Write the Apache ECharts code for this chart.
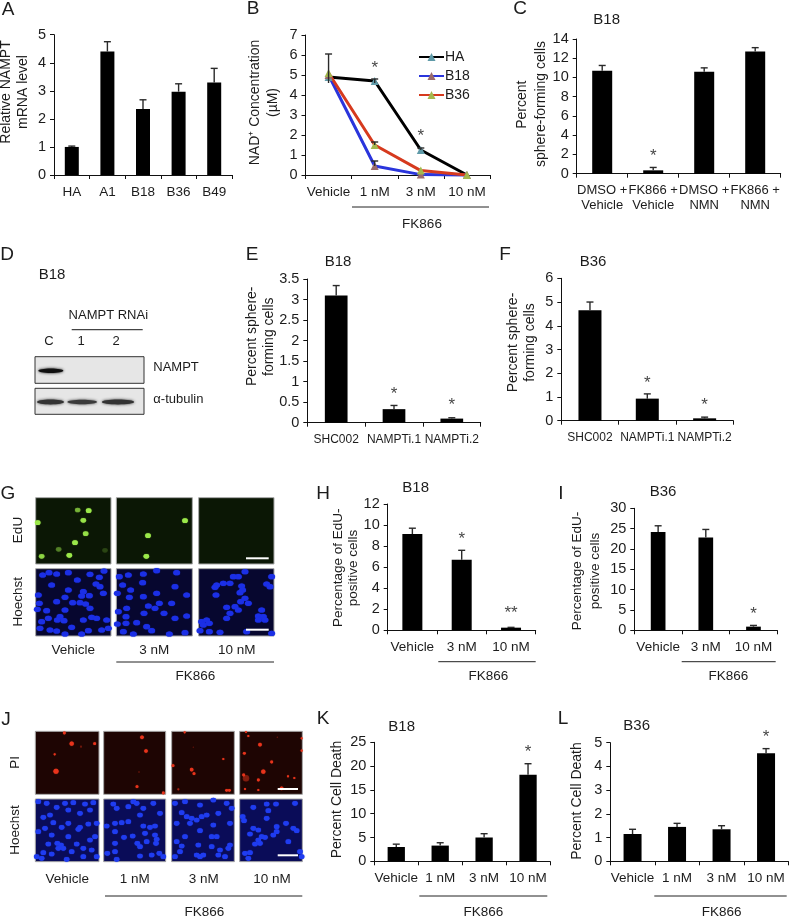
<!DOCTYPE html>
<html><head><meta charset="utf-8">
<style>html,body{margin:0;padding:0;background:#fff}#c{width:790px;height:918px}</style>
<script src="https://cdn.jsdelivr.net/npm/echarts@6/dist/echarts.min.js"></script>
</head><body><div id="c"></div>
<script>
// ---------- values ----------
const catsA = ['HA','A1','B18','B36','B49'];
const valsA = [1,4.4,2.35,2.97,3.3];
const topsA = [1.03,4.75,2.68,3.25,3.8];

const catsB = ['Vehicle','1 nM','3 nM','10 nM'];
const lineHA = [4.9,4.7,1.25,0];
const lineB18 = [5.0,0.45,0.02,0];
const lineB36 = [5.1,1.5,0.22,0];
const errB = [[0,4.6,6.05],[1,0.45,0.7],[1,1.5,1.65],[1,4.6,4.8],[2,1.25,1.35]];

const catsC = ['DMSO +\nVehicle','FK866 +\nVehicle','DMSO +\nNMN','FK866 +\nNMN'];
const valsC = [10.7,0.35,10.6,12.7];
const topsC = [11.25,0.65,11,13.1];

const catsEF = ['SHC002','NAMPTi.1','NAMPTi.2'];
const valsE = [3.1,0.33,0.1];
const topsE = [3.34,0.42,0.12];
const valsF = [4.65,0.93,0.1];
const topsF = [5.0,1.13,0.15];

const catsHI = ['Vehicle','3 nM','10 nM'];
const valsH = [9.15,6.7,0.25];
const topsH = [9.7,7.6,0.28];
const valsI = [24.2,22.8,0.9];
const topsI = [25.7,24.8,1.2];

const catsKL = ['Vehicle','1 nM','3 nM','10 nM'];
const valsK = [3,3.3,5,18.2];
const topsK = [3.6,3.9,5.8,20.5];
const valsL = [1.15,1.45,1.35,4.55];
const topsL = [1.35,1.6,1.5,4.75];

// micrograph spots: [x, y, brightness, size]
const eduG1 = [[233,90,0.5],[266,92],[113,128],[250,121,0.85],[257,161,0.8],[225,188],[125,229,0.7],[208,226],[176,208,0.3],[315,211,0.12]];
const eduG2 = [[555,122],[444,167],[439,229]];
const eduG3 = [];
const hoeG1 = [[128,285],[147,278],[170,282],[205,278],[232,300],[270,283],[312,273],[298,292],[288,312],[300,320],[155,315],[205,330],[250,335],[245,348],[268,347],[195,352],[310,340],[115,345],[118,370],[170,365],[218,368],[240,368],[257,372],[270,385],[195,390],[140,392],[112,388],[145,415],[180,410],[172,420],[192,422],[275,412],[290,415],[250,420],[320,420],[125,425],[120,445],[150,450],[170,453],[215,442],[265,452],[305,450],[325,445],[195,462],[245,462]];
const hoeG2 = [[368,315],[385,285],[430,282],[470,272],[530,278],[358,290],[392,330],[428,308],[525,320],[470,340],[388,352],[352,340],[430,350],[560,345],[515,370],[478,370],[445,378],[465,385],[380,385],[355,395],[492,400],[432,400],[560,408],[378,410],[525,415],[378,430],[410,428],[440,440],[352,432],[370,455],[455,452],[508,462],[555,458],[400,462]];
const hoeG3 = [[735,275],[715,290],[700,290],[690,310],[670,310],[650,315],[645,322],[725,318],[728,330],[720,338],[648,345],[800,312],[815,290],[810,320],[735,355],[722,365],[745,370],[705,380],[680,382],[715,390],[690,400],[680,415],[785,390],[775,408],[790,410],[795,420],[775,420],[605,425],[620,420],[610,435],[628,430],[600,452],[628,455],[660,457],[815,460],[740,455]];
const piJ1 = [[193,99,1,4],[215,131,1,6],[284,131,1,4],[164,163,1,3],[168,214,1,7],[243,140,0.25,3]];
const piJ2 = [[426,112,1,5],[438,153,1,5],[411,260,1,4],[490,279,1,4],[417,216,0.3,2]];
const piJ3 = [[554,97,1,3],[519,197,1,4],[575,209,1,5],[582,221,1,4],[670,177,1,3],[688,271,1,4],[680,271,1,4],[535,268,0.5,3],[580,142,0.2,2]];
const piJ4 = [[738,96,1,3],[745,108,1,3],[780,134,1,5],[733,160,1,4],[815,186,1,4],[790,215,1,6],[731,225,1,4],[775,240,1,4],[864,229,1,3],[883,234,1,3],[845,265,1,5],[735,267,1,3],[775,270,1,3],[905,115,1,3],[905,152,1,3],[738,235,0.3,9],[832,112,0.25,2]];
const hoeJ1 = [[115,305],[140,310],[170,322],[195,310],[220,308],[255,312],[280,308],[150,345],[130,352],[205,330],[240,340],[270,330],[115,395],[160,368],[185,382],[135,385],[205,370],[240,382],[235,388],[265,372],[290,370],[155,405],[205,410],[145,432],[172,430],[183,435],[190,445],[175,445],[230,432],[250,445],[285,410],[270,420],[275,450],[130,458],[155,462],[215,455],[250,470],[125,475],[200,478],[290,470],[110,470]];
const hoeJ2 = [[340,312],[350,325],[385,320],[400,305],[410,310],[430,325],[460,310],[345,370],[365,368],[385,365],[420,345],[430,378],[450,382],[465,378],[320,378],[345,395],[398,408],[372,412],[412,430],[420,440],[465,405],[470,418],[468,430],[440,425],[345,430],[322,460],[345,455],[350,478],[420,468],[455,465],[478,460],[490,470],[480,340],[435,400]];
const hoeJ3 = [[525,310],[555,305],[600,315],[640,300],[680,310],[695,325],[545,338],[560,350],[575,355],[590,360],[605,350],[620,345],[655,340],[530,370],[570,370],[690,370],[600,392],[640,375],[555,410],[635,410],[650,410],[530,425],[545,438],[595,435],[635,440],[660,450],[690,435],[685,445],[540,455],[590,465],[600,470],[610,465],[655,465],[675,470],[525,470]];
const hoeJ4 = [[760,322],[800,312],[828,312],[885,310],[805,332],[728,350],[732,362],[760,385],[775,390],[830,380],[858,370],[880,385],[890,392],[750,402],[785,410],[795,412],[775,420],[765,432],[780,430],[865,425],[735,460],[750,458],[900,455],[830,395],[820,405],[905,470],[745,475],[800,355]];

// ---------- layout and style ----------
const FONT = '"Liberation Sans", Arial, sans-serif';
const INK = '#1c1c1c';
const panels = [
 {cats:catsA,vals:valsA,tops:topsA,box:[54,34.7,178,140.3],max:5,step:1,bw:14,lab:13.5,margin:10},
 {cats:catsB,line:true,box:[305.5,35,184.5,140],max:7,step:1,lab:13.5,margin:10,stars:[[1,5.46],[2,2.1]]},
 {cats:catsC,vals:valsC,tops:topsC,box:[576.7,39,204,134.7],max:14,step:2,bw:20,lab:13,margin:9,stars:[[1,2.15]]},
 {cats:catsEF,vals:valsE,tops:topsE,box:[307.3,279,173.4,143.7],max:3.5,step:0.5,bw:22.7,lab:12,margin:9,stars:[[1,0.755],[2,0.487]]},
 {cats:catsEF,vals:valsF,tops:topsF,box:[561.3,278.3,172,142.4],max:6,step:1,bw:23,lab:12,margin:9,stars:[[1,1.72],[2,0.76]]},
 {cats:catsHI,vals:valsH,tops:topsH,box:[387.7,504,148,126.3],max:12,step:2,bw:20,lab:13.5,margin:9,stars:[[1,8.96],[2,1.86,'**']]},
 {cats:catsHI,vals:valsI,tops:topsI,box:[634.3,508.3,143,122],max:30,step:5,bw:14.7,lab:13.5,margin:9,stars:[[2,4.75]]},
 {cats:catsKL,vals:valsK,tops:topsK,box:[374.3,742.3,175.7,119],max:25,step:5,bw:17.3,lab:13.5,margin:9,stars:[[3,23.5]]},
 {cats:catsKL,vals:valsL,tops:topsL,box:[610.3,742.7,178,118.6],max:5,step:1,bw:18,lab:13.5,margin:9,stars:[[3,5.35]]}
];
// [spots, x0, x1, y0, y1, background, colour, size, origin x, origin y]
const images = [
 [eduG1,107,333,53,252,'#0b1705','#9be84a',[5.6,4.6],0,480],
 [eduG2,349,577,53,252,'#0b1705','#9be84a',[5.6,4.6],0,480],
 [eduG3,596,822,53,252,'#0b1705','#9be84a',[5.6,4.6],0,480],
 [hoeG1,107,333,266,468,'#07072f','#1b2fe6',[6.8,5.2],0,480],
 [hoeG2,349,577,266,468,'#07072f','#1b2fe6',[6.8,5.2],0,480],
 [hoeG3,596,822,266,468,'#07072f','#1b2fe6',[6.8,5.2],0,480],
 [piJ1,106,297,94,283,'#1e0503','#e8341c',0.72,0,700],
 [piJ2,311,497,94,283,'#1e0503','#e8341c',0.72,0,700],
 [piJ3,515,703,94,283,'#1e0503','#e8341c',0.72,0,700],
 [piJ4,719,907,94,283,'#1e0503','#e8341c',0.72,0,700],
 [hoeJ1,106,297,297,485,'#0a0c58','#1f3cf0',[5.5,4.6],0,700],
 [hoeJ2,311,497,297,485,'#0a0c58','#1f3cf0',[5.5,4.6],0,700],
 [hoeJ3,515,703,297,485,'#0a0c58','#1f3cf0',[5.5,4.6],0,700],
 [hoeJ4,719,907,297,485,'#0a0c58','#1f3cf0',[5.5,4.6],0,700]
];

const grid=[],xAxis=[],yAxis=[],series=[];
function errorSeries(data,i){
  return {type:'custom',xAxisIndex:i,yAxisIndex:i,data,clip:false,silent:true,z:4,encode:{x:0,y:[1,2]},
    renderItem(p,api){
      const a=api.coord([api.value(0),api.value(1)]), b=api.coord([api.value(0),api.value(2)]);
      const st={stroke:'#2a2a2a',lineWidth:1.4};
      return {type:'group',children:[
        {type:'line',shape:{x1:a[0],y1:a[1],x2:b[0],y2:b[1]},style:st},
        {type:'line',shape:{x1:b[0]-3.5,y1:b[1],x2:b[0]+3.5,y2:b[1]},style:st}]};
    }};
}
panels.forEach((p,i)=>{
  grid.push({left:p.box[0],top:p.box[1],width:p.box[2],height:p.box[3]});
  xAxis.push({type:'category',gridIndex:i,data:p.cats,boundaryGap:true,
    axisLine:{lineStyle:{color:'#111',width:1}},axisTick:{show:true,length:4,lineStyle:{color:'#111'},alignWithLabel:false},
    axisLabel:{interval:0,hideOverlap:false,fontFamily:FONT,fontSize:p.lab,color:INK,margin:p.margin,lineHeight:15}});
  yAxis.push({type:'value',gridIndex:i,min:0,max:p.max,interval:p.step,splitLine:{show:false},
    axisLine:{show:true,lineStyle:{color:'#111',width:1}},axisTick:{show:true,length:4,lineStyle:{color:'#111'}},
    axisLabel:{fontFamily:FONT,fontSize:14.5,color:INK,margin:8}});
  if(p.line){
    [['HA',lineHA,'#000','#5f9aa8'],['B18',lineB18,'#2a35dc','#9a6b6b'],['B36',lineB36,'#d63a1e','#a4b84e']].forEach(s=>{
      series.push({type:'line',name:s[0],xAxisIndex:i,yAxisIndex:i,data:s[1],symbol:'triangle',symbolSize:8,showSymbol:true,clip:false,z:3,
        lineStyle:{color:s[2],width:3},itemStyle:{color:s[3]}});
    });
    series.push(errorSeries(errB,i));
  } else {
    series.push({type:'bar',xAxisIndex:i,yAxisIndex:i,data:p.vals,barWidth:p.bw,itemStyle:{color:'#000'},silent:true,z:2});
    series.push(errorSeries(p.tops.map((t,k)=>[k,p.vals[k],t]),i));
  }
  if(p.stars){
    series.push({type:'scatter',xAxisIndex:i,yAxisIndex:i,clip:false,symbolSize:1,itemStyle:{color:'rgba(0,0,0,0)'},silent:true,z:5,
      data:p.stars.map(s=>({value:[s[0],s[1]],label:{formatter:s[2]||'*'}})),
      label:{show:true,position:'inside',fontFamily:FONT,fontSize:17,color:'#111',offset:[0,3]}});
  }
});
images.forEach(im=>{
  const i=grid.length, [spots,x0,x1,y0,y1,bg,col,size,ox,oy]=im;
  grid.push({show:true,left:ox+x0/3,top:oy+y0/3,width:(x1-x0)/3,height:(y1-y0)/3,backgroundColor:bg,borderColor:'#a8a8a8',borderWidth:1});
  xAxis.push({type:'value',gridIndex:i,min:x0,max:x1,show:false});
  yAxis.push({type:'value',gridIndex:i,min:y0,max:y1,inverse:true,show:false});
  series.push({type:'scatter',xAxisIndex:i,yAxisIndex:i,silent:true,z:2,clip:true,
    data:spots.map(d=>({value:[d[0],d[1]],symbolSize:d[3]?d[3]*size:size,itemStyle:{opacity:d[2]===undefined?1:d[2]}})),
    itemStyle:{color:col,shadowColor:col,shadowBlur:1}});
});

// ---------- text and rules ----------
const g=[];
function txt(s,x,y,size,opt){g.push(Object.assign({type:'text',x,y,z:50,style:{text:s,fontFamily:FONT,fontSize:size||13.5,fill:INK,textAlign:'center',textVerticalAlign:'middle'}},opt||{}));}
function vtxt(s,x,y,size){txt(s,x,y,size,{rotation:Math.PI/2});}
function rule(x1,x2,y,w,col){g.push({type:'line',z:50,shape:{x1,y1:y,x2,y2:y},style:{stroke:col||'#222',lineWidth:w||1}});}
[['A',8,10],['B',253,9],['C',520,9],['D',7,255],['E',252,255],['F',505,255],['G',8,494],['H',323,494],['I',561,494],['J',6,720],['K',323,719],['L',563,719]].forEach(l=>txt(l[0],l[1],l[2],19));
[[606.7,20],[52,275],[338,261.7],[593,262],[415.7,488],[663,492],[401.7,726.7],[636.7,726]].forEach((p,k)=>txt(['B18','B18','B18','B36','B18','B36','B18','B36'][k],p[0],p[1],15));
[['Relative NAMPT',6.5,92,14],['mRNA level',23,92,14],['NAD\u207A Concentration',255,102.5,14],['(\u00B5M)',273,102.5,14],
 ['Percent',522,104.7,14],['sphere-forming cells',540.7,104,14],
 ['Percent sphere-',251.7,336.3,14],['forming cells',269.3,336.7,14],['Percent sphere-',512.7,342.5,14],['forming cells',530,342.5,14],
 ['Percentage of EdU-',338.3,567.8,13.5],['positive cells',353.3,568,13.5],['Percentage of EdU-',577.3,571,13.5],['positive cells',595,571,13.5],
 ['Percent Cell Death',336.7,799.5,14],['Percent Cell Death',577.3,801,14],
 ['EdU',18.3,530,13.5],['Hoechst',18.3,601.7,13.5],['PI',15.7,762.3,13.5],['Hoechst',15.7,830,13.5]].forEach(t=>vtxt(t[0],t[1],t[2],t[3]));
[[352,489,207,422,224],[438.3,535.7,661.7,488.3,676.7],[681.7,775.7,661.7,728.3,676.7],[419.3,547.3,896,483.3,912],[654.3,786.7,896,721.7,912],[116.3,274,662,195.3,676.7],[105,302.3,896,204.3,912]].forEach(f=>{
  rule(f[0],f[1],f[2]);txt('FK866',f[3],f[4],13.5);
});
[['Vehicle',73.3,650],['3 nM',154.3,650],['10 nM',236.7,650],['Vehicle',67.3,879],['1 nM',134.7,879],['3 nM',203.7,879],['10 nM',272,879]].forEach(t=>txt(t[0],t[1],t[2],13.5));
// scale bars
[[246,268.7,558.3],[246,268.7,629.7],[277.7,298,789],[277.7,298,855.3]].forEach(s=>rule(s[0],s[1],s[2],2,'#fff'));
// western blot
txt('NAMPT RNAi',108.3,315,13);rule(71.7,142.7,329.7,1.2,'#444');
[['C',49],['1',81],['2',116]].forEach(t=>txt(t[0],t[1],341.7,13));
txt('NAMPT',153.3,367.3,13,{style:{text:'NAMPT',fontFamily:FONT,fontSize:13,fill:INK,textAlign:'left',textVerticalAlign:'middle'}});
txt('\u03B1-tubulin',153.3,399.3,13,{style:{text:'\u03B1-tubulin',fontFamily:FONT,fontSize:13,fill:INK,textAlign:'left',textVerticalAlign:'middle'}});
[[35,356.7,109,26.6],[35,388.3,109,26]].forEach(r=>g.push({type:'rect',z:40,shape:{x:r[0],y:r[1],width:r[2],height:r[3]},style:{fill:'#e6e6e6',stroke:'#333',lineWidth:1}}));
[[50.8,370.7,12.5,2.2,'#111'],[50.5,402,13.5,2.4,'#333'],[82.2,402,14.8,2.2,'#3a3a3a'],[118,402,16.2,2.4,'#333']].forEach(b=>g.push({type:'ellipse',z:41,shape:{cx:b[0],cy:b[1],rx:b[2],ry:b[3]},style:{fill:b[4],shadowColor:b[4],shadowBlur:3}}));

const chart=echarts.init(document.getElementById('c'),null,{renderer:'canvas'});
chart.setOption({animation:false,backgroundColor:'#fff',textStyle:{fontFamily:FONT},
  grid,xAxis,yAxis,series,graphic:{elements:g},
  legend:{data:['HA','B18','B36'],orient:'vertical',left:418,top:50,padding:0,itemWidth:25,itemHeight:10,itemGap:5,
    textStyle:{fontFamily:FONT,fontSize:14,color:INK,padding:[0,0,0,-4]}}
});
</script></body></html>
